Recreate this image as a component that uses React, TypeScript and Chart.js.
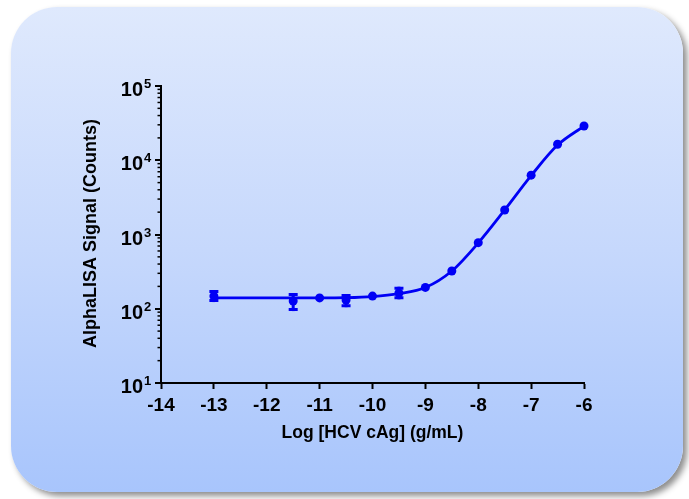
import React, { useEffect, useRef } from 'react';
import { Chart, registerables } from 'chart.js';

Chart.register(...registerables);

// ---- data ----
const xTickValues = [-14, -13, -12, -11, -10, -9, -8, -7, -6];
const yDecadeExponents = [1, 2, 3, 4, 5];
const xValues = [-13, -11.5, -11, -10.5, -10, -9.5, -9, -8.5, -8, -7.5, -7, -6.5, -6];
const meanSignal = [148, 127, 140, 131, 148, 163, 194, 322, 776, 2140, 6300, 16400, 28900];
const errLower: (number | null)[] = [123, 93, null, 105, null, 134, null, null, null, null, null, null, null];
const errUpper: (number | null)[] = [179, 163, null, 158, null, 198, null, null, null, null, null, null, null];
const fitX = [-13, -12, -11, -10.5, -10, -9.5, -9, -8.5, -8, -7.5, -7, -6.5, -6];
const fitSignal = [140, 140, 140, 141, 146, 160, 193, 322, 770, 2140, 6200, 16000, 28900];

const xTitle = 'Log [HCV cAg] (g/mL)';
const yTitle = 'AlphaLISA Signal (Counts)';

const BLUE = '#0000f5';
const FONT = '"Liberation Sans", Arial, sans-serif';

const customAxes = {
  id: 'customAxes',
  afterDatasetsDraw(chart: any) {
    const ctx = chart.ctx;
    const xs = chart.scales.x;
    const ys = chart.scales.y;
    ctx.save();
    ctx.strokeStyle = BLUE;
    ctx.lineCap = 'butt';
    for (let i = 0; i < xValues.length; i++) {
      const lo = errLower[i];
      const hi = errUpper[i];
      if (lo == null || hi == null) continue;
      const px = xs.getPixelForValue(xValues[i]);
      const pt = ys.getPixelForValue(hi);
      const pb = ys.getPixelForValue(lo);
      ctx.lineWidth = 3;
      ctx.beginPath();
      ctx.moveTo(px, pt);
      ctx.lineTo(px, pb);
      ctx.stroke();
      ctx.beginPath();
      ctx.moveTo(px - 4.5, pt + 1.5);
      ctx.lineTo(px + 4.5, pt + 1.5);
      ctx.moveTo(px - 4.5, pb - 1.5);
      ctx.lineTo(px + 4.5, pb - 1.5);
      ctx.stroke();
    }
    ctx.restore();
  },
  afterDraw(chart: any) {
    const ctx = chart.ctx;
    const ys = chart.scales.y;
    const xs = chart.scales.x;
    const ax = chart.chartArea.left;
    ctx.save();
    ctx.strokeStyle = '#000';
    ctx.fillStyle = '#000';
    for (const e of yDecadeExponents) {
      const base = Math.pow(10, e);
      const py = Math.round(ys.getPixelForValue(base));
      ctx.lineWidth = 2;
      ctx.beginPath();
      ctx.moveTo(ax - 6, py);
      ctx.lineTo(ax, py);
      ctx.stroke();
      if (e < 5) {
        for (let m = 2; m <= 9; m++) {
          const my = ys.getPixelForValue(base * m);
          ctx.lineWidth = 1.5;
          ctx.beginPath();
          ctx.moveTo(ax - 3.5, my);
          ctx.lineTo(ax, my);
          ctx.stroke();
        }
      }
      ctx.font = 'bold 20px ' + FONT;
      ctx.textAlign = 'right';
      ctx.textBaseline = 'alphabetic';
      ctx.fillText('10', ax - 18, py + 10);
      ctx.font = 'bold 13px ' + FONT;
      ctx.textAlign = 'left';
      ctx.fillText(String(e), ax - 17, py + 2);
    }
    ctx.font = 'bold 17.5px ' + FONT;
    ctx.textAlign = 'center';
    ctx.textBaseline = 'alphabetic';
    ctx.fillText(xTitle, (xs.left + xs.right) / 2, 438);
    ctx.save();
    ctx.font = 'bold 18px ' + FONT;
    ctx.translate(96, (ys.top + ys.bottom) / 2 - 1);
    ctx.rotate(-Math.PI / 2);
    ctx.fillText(yTitle, 0, 0);
    ctx.restore();
    ctx.restore();
  },
};

export default function App() {
  const ref = useRef<HTMLCanvasElement | null>(null);
  useEffect(() => {
    if (!ref.current) return;
    const chart = new Chart(ref.current, {
      type: 'line',
      data: {
        datasets: [
          {
            label: 'fit',
            data: fitX.map((x, i) => ({ x, y: fitSignal[i] })),
            borderColor: BLUE,
            borderWidth: 2.8,
            pointRadius: 0,
            cubicInterpolationMode: 'monotone',
            fill: false,
            clip: false,
          },
          {
            label: 'mean',
            data: xValues.map((x, i) => ({ x, y: meanSignal[i] })),
            showLine: false,
            pointRadius: 4.5,
            pointBackgroundColor: BLUE,
            pointBorderColor: BLUE,
            pointBorderWidth: 0,
            clip: false,
          },
        ],
      },
      plugins: [customAxes],
      options: {
        animation: false,
        responsive: false,
        maintainAspectRatio: false,
        events: [],
        layout: { padding: { left: 0, top: 86, right: 105, bottom: 0 } },
        plugins: { legend: { display: false }, tooltip: { enabled: false } },
        scales: {
          x: {
            type: 'linear',
            min: -14,
            max: -6,
            afterBuildTicks: (s: any) => {
              s.ticks = xTickValues.map((v) => ({ value: v }));
            },
            afterFit: (s: any) => {
              s.height = 116;
            },
            ticks: {
              color: '#000',
              font: { family: FONT, size: 19, weight: 'bold' },
              padding: 5,
              callback: (v: any) => String(v),
            },
            grid: {
              display: true,
              drawOnChartArea: false,
              drawTicks: true,
              tickLength: 6,
              tickWidth: 2,
              tickColor: '#000',
            },
            border: { display: true, color: '#000', width: 2 },
          },
          y: {
            type: 'logarithmic',
            min: 10,
            max: 100000,
            afterFit: (s: any) => {
              s.width = 161;
            },
            ticks: { display: false },
            grid: { display: false, drawTicks: false },
            border: { display: true, color: '#000', width: 2 },
          },
        },
      },
    } as any);
    return () => chart.destroy();
  }, []);
  return (
    <div style={{ position: 'absolute', left: 0, top: 0, width: 689, height: 499, overflow: 'hidden', background: '#fff' }}>
      <div
        style={{
          position: 'absolute',
          left: 11,
          top: 7,
          width: 672,
          height: 485,
          borderRadius: 46,
          background: 'linear-gradient(to bottom, #dfe9fd 0%, #c6d8fc 50%, #a8c5fc 100%)',
          boxShadow: '4px 4px 6px rgba(0,0,0,0.45)',
        }}
      />
      <canvas ref={ref} width={689} height={499} style={{ position: 'absolute', left: 0, top: 0 }} />
    </div>
  );
}
